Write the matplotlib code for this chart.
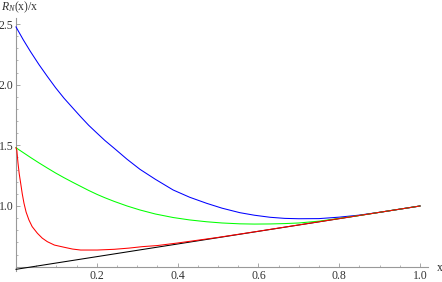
import matplotlib
matplotlib.use("Agg")
import matplotlib.pyplot as plt
from matplotlib.ticker import MultipleLocator, FixedLocator

plt.rcParams['font.family'] = ['Liberation Serif', 'DejaVu Serif']
plt.rcParams['mathtext.fontset'] = 'custom'
plt.rcParams['mathtext.rm'] = 'Liberation Serif'
plt.rcParams['mathtext.it'] = 'Liberation Serif:italic'

# values
line_x = [0.0, 1.0]
line_y = [0.478, 1.0]

blue_x = [0.0, 0.018, 0.036, 0.057, 0.078, 0.098, 0.119, 0.140, 0.160,
          0.180, 0.201, 0.220, 0.243, 0.275, 0.307, 0.345, 0.389, 0.430,
          0.472, 0.510, 0.554, 0.590, 0.629, 0.665, 0.70, 0.75, 0.80,
          0.85, 0.90, 1.0]
blue_y = [2.476, 2.37, 2.272, 2.165, 2.066, 1.975, 1.888, 1.81, 1.736,
          1.665, 1.599, 1.54, 1.476, 1.385, 1.302, 1.22, 1.132, 1.072,
          1.022, 0.982, 0.945, 0.924, 0.907, 0.898, 0.895, 0.896, 0.908,
          0.925, 0.948, 1.0]

green_x = [0.0, 0.018, 0.036, 0.057, 0.078, 0.098, 0.119, 0.140, 0.160,
           0.180, 0.201, 0.220, 0.243, 0.275, 0.307, 0.345, 0.389, 0.430,
           0.472, 0.510, 0.554, 0.590, 0.629, 0.665, 0.70, 0.75, 0.80,
           0.85, 0.90, 1.0]
green_y = [1.48, 1.44, 1.40, 1.355, 1.312, 1.272, 1.233, 1.196, 1.162,
           1.128, 1.095, 1.068, 1.038, 1.0, 0.967, 0.934, 0.905, 0.885,
           0.870, 0.860, 0.853, 0.851, 0.852, 0.855, 0.86, 0.875, 0.898,
           0.922, 0.948, 1.0]

red_x = [0.0, 0.002, 0.005, 0.008, 0.0116, 0.0155, 0.0198, 0.025, 0.032,
         0.040, 0.053, 0.065, 0.0775, 0.095, 0.119, 0.140, 0.160, 0.201,
         0.243, 0.280, 0.313, 0.35, 0.40, 0.45, 0.50, 0.60, 0.80, 1.0]
red_y = [1.48, 1.46, 1.352, 1.265, 1.187, 1.10, 1.022, 0.95, 0.885,
         0.83, 0.775, 0.735, 0.706, 0.678, 0.660, 0.645, 0.637, 0.637,
         0.643, 0.653, 0.665, 0.674, 0.695, 0.718, 0.741, 0.792, 0.896, 1.0]

x_ticks = [0.2, 0.4, 0.6, 0.8, 1.0]
y_ticks = [1.0, 1.5, 2.0, 2.5]

fig = plt.figure(figsize=(4.42, 2.82), dpi=100)
ax = fig.add_axes([0, 0, 1, 1])
ax.set_xlim(-0.0396, 1.0545)
ax.set_ylim(0.3735, 2.698)

ax.plot(line_x, line_y, color='black', lw=0.75, zorder=3)
ax.plot(blue_x, blue_y, color='#0000ff', lw=0.75, zorder=4)
ax.plot(green_x, green_y, color='#00ff00', lw=0.75, zorder=5)
ax.plot(red_x, red_y, color='#ff0000', lw=0.75, zorder=6)

# Mathematica-style axes crossing at (0, 0.5)
for s in ['top', 'right']:
    ax.spines[s].set_visible(False)
ax.spines['left'].set_position(('data', 0))
ax.spines['bottom'].set_position(('data', 0.497))
ax.spines['left'].set_bounds(0.465, 2.55)
ax.spines['bottom'].set_bounds(0, 1.02)
for s in ['left', 'bottom']:
    ax.spines[s].set_color('#999999')
    ax.spines[s].set_linewidth(0.8)

ax.xaxis.set_major_locator(FixedLocator(x_ticks))
ax.xaxis.set_minor_locator(MultipleLocator(0.05))
ax.yaxis.set_major_locator(FixedLocator(y_ticks))
ax.yaxis.set_minor_locator(FixedLocator([0.6 + 0.1 * i for i in range(20)]))
ax.set_xticklabels(['0.2', '0.4', '0.6', '0.8', '1.0'])
ax.set_yticklabels(['1.0', '1.5', '2.0', '2.5'])
ax.tick_params(which='major', direction='in', length=3, width=0.6,
               color='#999999', labelsize=8.5, labelcolor='#333333', pad=2)
ax.tick_params(which='minor', direction='in', length=1.6, width=0.5,
               color='#999999')

fig.text(440 / 442, 1 - 268 / 282, 'x', ha='center', va='center',
         fontsize=8.5, color='#333333')
fig.text(1 / 442, 1 - 7 / 282, r'$R_N$(x)/x', ha='left', va='center',
         fontsize=8.5, color='#333333')

fig.savefig('out.png', dpi=100)
